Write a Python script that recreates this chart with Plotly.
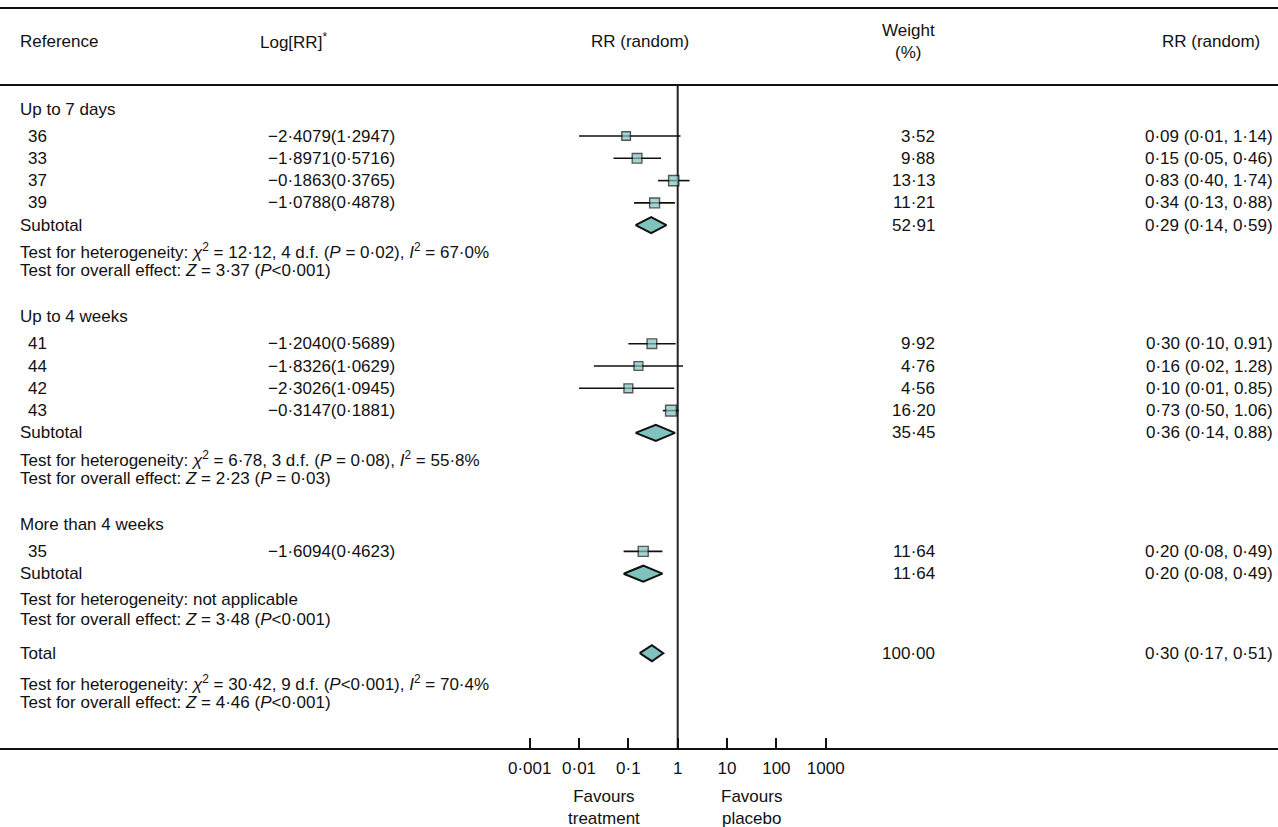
import plotly.graph_objects as go

# ---------------- data ----------------
groups = ["Up to 7 days", "Up to 4 weeks", "More than 4 weeks"]
study_ids = [["36", "33", "37", "39"], ["41", "44", "42", "43"], ["35"]]
log_rr = [[-2.4079, -1.8971, -0.1863, -1.0788], [-1.2040, -1.8326, -2.3026, -0.3147], [-1.6094]]
log_se = [[1.2947, 0.5716, 0.3765, 0.4878], [0.5689, 1.0629, 1.0945, 0.1881], [0.4623]]
weights = [[3.52, 9.88, 13.13, 11.21], [9.92, 4.76, 4.56, 16.20], [11.64]]
rr_est = [[0.09, 0.15, 0.83, 0.34], [0.30, 0.16, 0.10, 0.73], [0.20]]
rr_lo = [[0.01, 0.05, 0.40, 0.13], [0.10, 0.02, 0.01, 0.50], [0.08]]
rr_hi = [[1.14, 0.46, 1.74, 0.88], [0.91, 1.28, 0.85, 1.06], [0.49]]
rr_labels = [["0·09 (0·01, 1·14)", "0·15 (0·05, 0·46)", "0·83 (0·40, 1·74)", "0·34 (0·13, 0·88)"],
             ["0·30 (0·10, 0.91)", "0·16 (0·02, 1.28)", "0·10 (0·01, 0.85)", "0·73 (0·50, 1.06)"],
             ["0·20 (0·08, 0·49)"]]

sub_weight = [52.91, 35.45, 11.64]
sub_est = [0.29, 0.36, 0.20]
sub_lo = [0.14, 0.14, 0.08]
sub_hi = [0.59, 0.88, 0.49]
sub_labels = ["0·29 (0·14, 0·59)", "0·36 (0·14, 0.88)", "0·20 (0·08, 0·49)"]

total_weight = 100.00
total_est, total_lo, total_hi = 0.30, 0.17, 0.51
total_label = "0·30 (0·17, 0·51)"

het_texts = [
    "Test for heterogeneity: <i>χ</i><sup>2</sup> = 12·12, 4 d.f. (<i>P</i> = 0·02), <i>I</i><sup>2</sup> = 67·0%",
    "Test for heterogeneity: <i>χ</i><sup>2</sup> = 6·78, 3 d.f. (<i>P</i> = 0·08), <i>I</i><sup>2</sup> = 55·8%",
    "Test for heterogeneity: not applicable",
]
overall_texts = [
    "Test for overall effect: <i>Z</i> = 3·37 (<i>P</i>&lt;0·001)",
    "Test for overall effect: <i>Z</i> = 2·23 (<i>P</i> = 0·03)",
    "Test for overall effect: <i>Z</i> = 3·48 (<i>P</i>&lt;0·001)",
]
total_het = "Test for heterogeneity: <i>χ</i><sup>2</sup> = 30·42, 9 d.f. (<i>P</i>&lt;0·001), <i>I</i><sup>2</sup> = 70·4%"
total_overall = "Test for overall effect: <i>Z</i> = 4·46 (<i>P</i>&lt;0·001)"

tick_vals = [0.001, 0.01, 0.1, 1, 10, 100, 1000]
tick_text = ["0·001", "0·01", "0·1", "1", "10", "100", "1000"]

# ---------------- styling / layout ----------------
W, H = 1278, 827
FONT = "Liberation Sans, Arial, sans-serif"
FS = 17
TXT = "#111111"
FILL = "#80c3be"
AXIS_Y = 748          # pixel row of the x axis line
PX_PER_DEC = 49.33
ONE_X = 677.7         # pixel position of RR = 1

x_lo_log = -(ONE_X) / PX_PER_DEC
x_hi_log = (W - ONE_X) / PX_PER_DEC

def px(xp):
    return xp / W

# row positions (vertical layout, pixel units from top)
y = 109
layout_rows = []
for gi in range(len(groups)):
    g = {"header": y}
    y += 27
    g["studies"] = []
    for _ in study_ids[gi]:
        g["studies"].append(y)
        y += 22.3
    g["sub"] = y
    g["het"] = y + 26
    g["ovr"] = y + 26 + 19.5
    layout_rows.append(g)
    y = g["ovr"] + 46
total_y = layout_rows[-1]["ovr"] + 34
total_het_y = total_y + 29.5
total_ovr_y = total_het_y + 19.5

fig = go.Figure()

# reference line at RR = 1
fig.add_trace(go.Scatter(x=[1, 1], y=[85, AXIS_Y], mode="lines",
                         line=dict(color="#222222", width=2), hoverinfo="skip", showlegend=False))

# CI lines
cx, cy = [], []
for gi in range(len(groups)):
    for si in range(len(study_ids[gi])):
        yy = layout_rows[gi]["studies"][si]
        cx += [rr_lo[gi][si], rr_hi[gi][si], None]
        cy += [yy, yy, None]
fig.add_trace(go.Scatter(x=cx, y=cy, mode="lines", line=dict(color="#111111", width=1.6),
                         hoverinfo="skip", showlegend=False))

# squares
sx, sy, ss = [], [], []
for gi in range(len(groups)):
    for si in range(len(study_ids[gi])):
        sx.append(rr_est[gi][si])
        sy.append(layout_rows[gi]["studies"][si])
        ss.append(8 + 0.17 * weights[gi][si])
fig.add_trace(go.Scatter(x=sx, y=sy, mode="markers",
                         marker=dict(symbol="square", size=ss, color=FILL,
                                     line=dict(color="#111111", width=1.4)),
                         showlegend=False))

# diamonds
def diamond(est, lo, hi, yy, hh=8):
    fig.add_trace(go.Scatter(x=[lo, est, hi, est, lo], y=[yy, yy - hh, yy, yy + hh, yy],
                             mode="lines", fill="toself", fillcolor=FILL,
                             line=dict(color="#111111", width=2), hoverinfo="skip",
                             showlegend=False))

for gi in range(len(groups)):
    diamond(sub_est[gi], sub_lo[gi], sub_hi[gi], layout_rows[gi]["sub"])
diamond(total_est, total_lo, total_hi, total_y)

# ---------------- text ----------------
ann = []
def text(xp, yy, t, anchor="left", size=FS):
    ann.append(dict(x=px(xp), xref="paper", y=yy, yref="y", text=t, showarrow=False,
                    xanchor=anchor, yanchor="middle", font=dict(family=FONT, size=size, color=TXT)))

# header
text(18, 41, "Reference")
text(258, 41, "Log[RR]<sup>*</sup>")
text(640, 41, "RR (random)", "center")
text(908, 41, "Weight<br>(%)", "center")
text(1262, 41, "RR (random)", "right")

def fmt_log(v, s):
    sign = "−" if v < 0 else ""
    return (sign + f"{abs(v):.4f}({s:.4f})").replace(".", "·")

def fmt_w(w):
    return f"{w:.2f}".replace(".", "·")

for gi, g in enumerate(layout_rows):
    text(18, g["header"], groups[gi])
    for si, yy in enumerate(g["studies"]):
        text(26, yy, study_ids[gi][si])
        text(397, yy, fmt_log(log_rr[gi][si], log_se[gi][si]), "right")
        text(937, yy, fmt_w(weights[gi][si]), "right")
        text(1275, yy, rr_labels[gi][si], "right")
    text(18, g["sub"], "Subtotal")
    text(937, g["sub"], fmt_w(sub_weight[gi]), "right")
    text(1275, g["sub"], sub_labels[gi], "right")
    text(18, g["het"], het_texts[gi])
    text(18, g["ovr"], overall_texts[gi])

text(18, total_y, "Total")
text(937, total_y, fmt_w(total_weight), "right")
text(1275, total_y, total_label, "right")
text(18, total_het_y, total_het)
text(18, total_ovr_y, total_overall)

# favours labels (placed on the log axis, log10 units)
for lx, t in [(-1.5, "Favours<br>treatment"), (1.5, "Favours<br>placebo")]:
    ann.append(dict(x=lx, xref="x", y=1 - 785 / H, yref="paper", text=t, showarrow=False,
                    xanchor="center", yanchor="top", font=dict(family=FONT, size=FS, color=TXT)))

shapes = [
    dict(type="line", xref="paper", x0=0, x1=1, yref="y", y0=8, y1=8, line=dict(color="#111111", width=2)),
    dict(type="line", xref="paper", x0=0, x1=1, yref="y", y0=85, y1=85, line=dict(color="#111111", width=2)),
]

fig.update_layout(
    width=W, height=H, margin=dict(l=0, r=0, t=0, b=0),
    paper_bgcolor="white", plot_bgcolor="white",
    showlegend=False, annotations=ann, shapes=shapes,
    xaxis=dict(type="log", range=[x_lo_log, x_hi_log], domain=[0, 1],
               showline=True, linecolor="#111111", linewidth=2,
               ticks="inside", ticklen=10, tickwidth=1.5, tickcolor="#111111",
               tickvals=tick_vals, ticktext=tick_text, ticklabelstandoff=4,
               tickfont=dict(family=FONT, size=FS, color=TXT),
               showgrid=False, zeroline=False, fixedrange=True),
    yaxis=dict(range=[AXIS_Y, 0], domain=[(H - AXIS_Y) / H, 1], visible=False,
               showgrid=False, zeroline=False, fixedrange=True),
)

fig.write_html("out.html", config={"displayModeBar": False},
               post_script="document.body.style.margin='0px';")
